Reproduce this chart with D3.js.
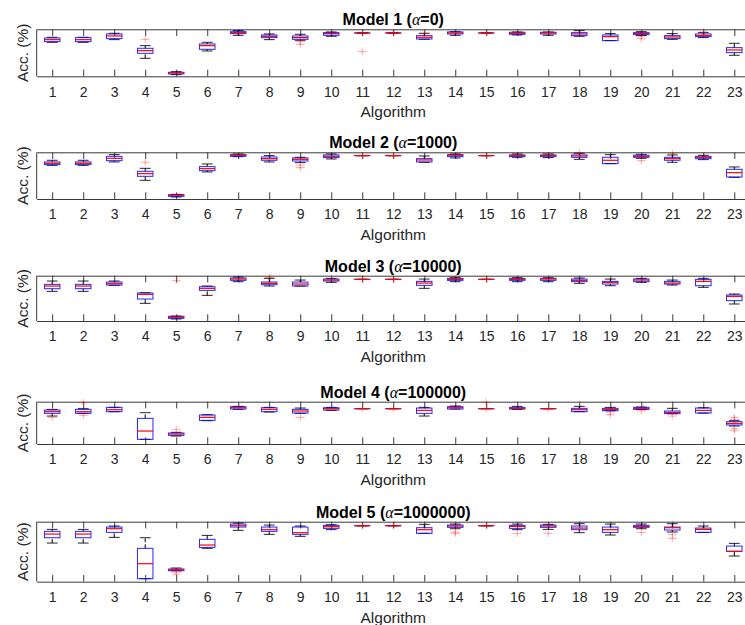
<!DOCTYPE html>
<html>
<head>
<meta charset="utf-8">
<script src="https://cdn.jsdelivr.net/npm/d3@7"></script>
<style>
  body { margin: 0; background: #fff; }
  svg { display: block; font-family: "Liberation Sans", Arial, Helvetica, sans-serif; }
</style>
</head>
<body>
<svg id="chart" width="745" height="625"></svg>
<script>
const algorithms = d3.range(1, 24);
const modelNames = ["Model 1", "Model 2", "Model 3", "Model 4", "Model 5"];
const alphaValues = ["0", "1000", "10000", "100000", "1000000"];

// per algorithm: [lower whisker, q1, median, q3, upper whisker], Acc. (%)
const model1Stats = [
  [72.3,73.8,78.0,81.6,83.0],[72.3,73.8,78.0,82.3,83.0],[78.0,80.1,85.8,90.1,91.5],
  [38.3,48.9,54.6,59.6,65.2],[3.5,5.0,7.1,8.5,9.9],[53.9,57.4,65.2,68.8,72.3],
  [87.2,90.8,92.9,95.0,97.2],[78.0,82.3,85.1,87.9,90.1],[76.6,78.7,82.3,85.8,89.4],
  [85.1,87.2,90.8,92.9,94.3],[92.2,92.2,92.2,92.2,92.2],[92.2,92.2,92.2,92.2,92.2],
  [78.7,79.4,83.0,86.5,91.5],[87.2,90.1,92.2,94.3,95.0],[92.2,92.2,92.2,92.2,92.2],
  [88.0,89.4,91.5,93.6,94.3],[87.2,90.1,92.2,93.6,94.3],[85.1,86.5,90.1,92.9,97.2],
  [75.9,75.9,84.4,87.9,90.8],[86.9,88.7,90.8,92.9,95.0],[78.7,80.1,83.7,86.5,90.8],
  [82.3,84.4,86.5,90.1,92.9],[44.7,50.4,56.0,61.0,70.2]
];
const model2Stats = [
  [72.1,73.6,76.4,79.3,82.9],[72.1,73.6,76.4,79.3,82.9],[79.3,82.1,87.1,91.4,95.0],
  [40.0,48.6,54.3,59.3,65.7],[4.3,5.7,7.9,9.3,10.0],[57.9,60.7,65.0,69.3,75.0],
  [90.7,91.4,93.6,95.0,96.4],[79.3,82.9,86.4,90.0,92.9],[77.9,81.4,85.0,87.9,89.3],
  [85.7,88.6,91.4,94.3,96.4],[92.9,92.9,92.9,92.9,92.9],[92.9,92.9,92.9,92.9,92.9],
  [78.6,79.3,83.6,86.4,92.1],[87.9,90.7,93.6,95.0,96.4],[92.9,92.9,92.9,92.9,92.9],
  [89.3,90.7,92.9,94.3,96.4],[88.6,90.7,92.9,94.3,96.4],[85.0,89.3,92.1,94.3,97.9],
  [75.7,75.7,82.9,89.3,95.0],[87.1,89.3,91.4,93.6,95.7],[78.6,82.9,86.4,89.3,94.3],
  [84.3,86.4,89.3,91.4,93.6],[46.4,47.1,56.4,63.6,68.6]
];
const model3Stats = [
  [65.4,71.3,77.2,80.9,88.2],[65.4,71.3,77.2,80.9,88.2],[78.7,79.4,82.4,86.0,88.2],
  [39.0,48.5,58.8,61.8,62.5],[4.4,5.9,8.1,10.3,11.0],[56.6,67.6,72.1,75.7,77.2],
  [86.8,89.7,92.6,94.9,97.1],[77.2,80.1,83.1,86.0,94.1],[77.2,77.2,81.6,86.0,90.4],
  [85.3,88.2,90.4,92.6,94.1],[91.9,91.9,91.9,91.9,91.9],[91.9,91.9,91.9,91.9,91.9],
  [72.1,78.7,83.8,87.5,92.6],[86.8,89.7,91.9,94.1,96.3],[91.9,91.9,91.9,91.9,91.9],
  [86.8,89.7,91.9,94.1,95.6],[86.8,89.7,92.6,94.1,95.6],[83.1,86.8,89.7,92.6,94.9],
  [77.9,81.6,85.3,87.5,92.6],[85.3,86.8,90.4,92.6,94.1],[79.4,81.6,83.8,87.5,90.4],
  [74.3,77.9,87.5,91.9,94.1],[37.5,44.9,54.4,57.4,59.6]
];
const model4Stats = [
  [66.1,72.4,76.4,80.3,81.9],[72.4,72.4,76.4,81.9,83.5],[76.4,76.4,81.1,86.6,86.6],
  [11.0,11.0,30.7,60.6,74.0],[18.9,20.5,23.6,26.0,27.6],[55.1,55.9,63.0,68.5,69.3],
  [81.9,82.7,85.8,88.2,89.0],[75.6,76.4,81.9,85.8,86.6],[72.4,73.2,78.0,81.9,85.0],
  [79.5,80.3,83.5,85.8,86.6],[83.5,83.5,83.5,83.5,83.5],[83.5,83.5,83.5,83.5,83.5],
  [66.1,72.4,79.5,85.0,86.6],[82.7,82.7,85.8,88.2,89.8],[83.5,83.5,83.5,83.5,83.5],
  [81.9,82.7,84.3,86.6,89.0],[83.5,83.5,83.5,83.5,83.5],[76.4,76.4,81.1,84.3,89.0],
  [78.7,78.7,81.9,84.3,86.6],[81.9,81.9,84.3,86.6,87.4],[71.7,71.7,74.8,78.0,84.3],
  [73.2,73.2,79.5,85.0,85.8],[42.5,44.9,48.8,52.8,55.1]
];
const model5Stats = [
  [64.4,73.3,79.4,83.9,87.2],[64.4,73.3,79.4,83.9,87.2],[73.9,82.2,88.3,91.1,92.8],
  [5.0,5.0,30.0,55.6,73.3],[18.3,18.3,20.0,21.1,22.8],[55.6,57.2,61.1,70.6,77.2],
  [85.6,91.1,93.3,96.1,97.8],[78.9,83.9,86.7,91.1,94.4],[75.6,78.9,81.7,91.1,92.8],
  [86.7,88.9,91.7,93.9,95.0],[93.3,93.3,93.3,93.3,93.3],[93.3,93.3,93.3,93.3,93.3],
  [80.6,80.6,86.7,90.0,95.6],[88.3,90.6,92.8,94.4,96.1],[93.3,93.3,93.3,93.3,93.3],
  [86.7,88.9,92.2,93.9,96.1],[87.2,90.6,92.8,94.4,95.6],[81.7,86.7,89.4,92.8,96.7],
  [77.8,82.2,86.7,91.1,96.1],[88.3,90.6,92.2,93.9,96.1],[82.8,86.1,90.0,91.1,96.7],
  [82.2,82.2,87.2,89.4,92.8],[42.8,50.6,50.6,59.4,63.9]
];

// outliers: [algorithm, Acc. (%)]
const model1Outliers = [[4,78.7],[9,73.8],[9,68.1],[11,92.2],[11,52.5],[12,92.2],[13,91.5],[15,92.2],[20,85.1],[20,80.1],[22,94.3]];
const model2Outliers = [[4,78.6],[9,72.9],[9,67.1],[11,92.9],[12,92.9],[15,92.9],[18,98.6],[20,82.1],[21,97.9]];
const model3Outliers = [[5,89.0],[8,96.3],[11,91.9],[12,91.9],[15,91.9]];
const model4Outliers = [[1,63.0],[2,67.7],[2,97.6],[5,34.6],[9,63.0],[11,83.5],[12,83.5],[15,83.5],[15,99.2],[17,83.5],[19,75.6],[19,69.3],[20,78.7],[21,66.1],[23,63.0],[23,58.3],[23,37.0],[23,31.5]];
const model5Outliers = [[5,16.1],[5,12.8],[11,93.3],[12,93.3],[14,82.8],[14,80.6],[15,93.3],[16,80.6],[17,80.6],[20,82.2],[21,78.9],[21,72.2]];

const allStats = [model1Stats, model2Stats, model3Stats, model4Stats, model5Stats];
const allOutliers = [model1Outliers, model2Outliers, model3Outliers, model4Outliers, model5Outliers];

// layout (pixel boxes of each axes: [top, bottom])
const panelBox = [[29.3, 76.3], [152.3, 199], [275.7, 321], [401.7, 444], [521.7, 581.7]];
const axLeft = 36.7, axRight = 749.8;
const tickLen = 6.7, boxW = 0.5, capW = 0.35;
const axisColor = "#3a3a3a", textColor = "#262626";

const svg = d3.select("#chart");
const x = d3.scaleLinear().domain([0.5, 23.5]).range([axLeft, axRight]);
const cx = (axLeft + axRight) / 2;

allStats.forEach((stats, i) => {
  const [top, bottom] = panelBox[i];
  const y = d3.scaleLinear().domain([0, 100]).range([bottom, top]);
  const g = svg.append("g");

  // axes frame + ticks
  const xb = g.append("g")
      .attr("transform", `translate(0,${bottom})`)
      .call(d3.axisBottom(x).tickValues(algorithms).tickSizeInner(-tickLen).tickSizeOuter(0).tickPadding(10.5));
  xb.selectAll("text").attr("fill", textColor).style("font-size", "14px");
  const xt = g.append("g")
      .attr("transform", `translate(0,${top})`)
      .call(d3.axisTop(x).tickValues(algorithms).tickSizeInner(-tickLen).tickSizeOuter(0).tickFormat(""));
  [xb, xt].forEach(a => {
    a.select(".domain").attr("stroke", axisColor);
    a.selectAll(".tick line").attr("stroke", axisColor);
  });
  g.selectAll(null).data([axLeft, axRight]).join("line")
      .attr("x1", d => d).attr("x2", d => d)
      .attr("y1", top).attr("y2", bottom)
      .attr("stroke", axisColor);

  // boxes
  const bx = g.append("g").selectAll("g").data(stats).join("g");
  bx.append("line") // upper whisker
      .attr("x1", (d, j) => x(algorithms[j])).attr("x2", (d, j) => x(algorithms[j]))
      .attr("y1", d => y(d[3])).attr("y2", d => y(d[4]))
      .attr("stroke", "#000").attr("stroke-dasharray", "4,2");
  bx.append("line") // lower whisker
      .attr("x1", (d, j) => x(algorithms[j])).attr("x2", (d, j) => x(algorithms[j]))
      .attr("y1", d => y(d[0])).attr("y2", d => y(d[1]))
      .attr("stroke", "#000").attr("stroke-dasharray", "4,2");
  [0, 4].forEach(k => {
    bx.append("line")
        .attr("x1", (d, j) => x(algorithms[j] - capW / 2)).attr("x2", (d, j) => x(algorithms[j] + capW / 2))
        .attr("y1", d => y(d[k])).attr("y2", d => y(d[k]))
        .attr("stroke", "#000").attr("stroke-opacity", 0.85);
  });
  bx.append("rect")
      .attr("x", (d, j) => x(algorithms[j] - boxW / 2))
      .attr("width", x(boxW) - x(0))
      .attr("y", d => y(d[3]))
      .attr("height", d => Math.max(0.01, y(d[1]) - y(d[3])))
      .attr("fill", "none").attr("stroke", "#0000ff").attr("stroke-opacity", 0.85);
  bx.append("line")
      .attr("x1", (d, j) => x(algorithms[j] - boxW / 2)).attr("x2", (d, j) => x(algorithms[j] + boxW / 2))
      .attr("y1", d => y(d[2])).attr("y2", d => y(d[2]))
      .attr("stroke", "#ff0000").attr("stroke-width", 1.2);

  // outliers as '+'
  const og = g.append("g").selectAll("g").data(allOutliers[i]).join("g")
      .attr("transform", d => `translate(${x(d[0])},${y(d[1])})`)
      .attr("stroke", "#ff0000").attr("stroke-opacity", 0.35);
  og.append("line").attr("x1", -4.5).attr("x2", 4.5).attr("y1", 0).attr("y2", 0);
  og.append("line").attr("x1", 0).attr("x2", 0).attr("y1", -3.5).attr("y2", 3.5);

  // texts
  const title = g.append("text")
      .attr("x", cx).attr("y", top - 4)
      .attr("text-anchor", "middle")
      .style("font-size", "16px").style("font-weight", "bold").attr("fill", "#000");
  title.append("tspan").text(`${modelNames[i]} (`);
  title.append("tspan").text("α")
      .style("font-family", "'Liberation Serif', 'Times New Roman', serif")
      .style("font-style", "italic").style("font-weight", "normal");
  title.append("tspan").text(`=${alphaValues[i]})`);

  g.append("text")
      .attr("x", cx).attr("y", bottom + 41)
      .attr("text-anchor", "middle")
      .style("font-size", "15.5px").attr("fill", textColor)
      .text("Algorithm");

  g.append("text")
      .attr("transform", `translate(28,${(top + bottom) / 2}) rotate(-90)`)
      .attr("text-anchor", "middle")
      .style("font-size", "15.5px").attr("fill", textColor)
      .text("Acc. (%)");
});
</script>
</body>
</html>
